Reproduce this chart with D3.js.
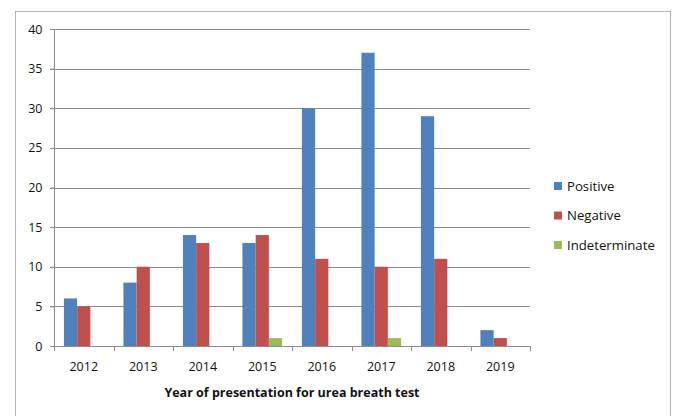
<!DOCTYPE html>
<html><head><meta charset="utf-8">
<script src="https://cdn.jsdelivr.net/npm/d3@7"></script>
<style>body{margin:0;background:#fff;} svg{display:block;font-family:"Open Sans",sans-serif;}</style>
</head><body>
<svg id="c" width="674" height="416"></svg>
<script>
const years = ["2012","2013","2014","2015","2016","2017","2018","2019"];
const seriesNames = ["Positive","Negative","Indeterminate"];
const positive = [6,8,14,13,30,37,29,2];
const negative = [5,10,13,14,11,10,11,1];
const indeterminate = [0,0,0,1,0,1,0,0];
const colors = ["#4F81BD","#C0504D","#9BBB59"];
const yTicks = [0,5,10,15,20,25,30,35,40];

const svg = d3.select("#c");
svg.append("rect").attr("x",15.5).attr("y",11.5).attr("width",655).attr("height",420)
  .attr("fill","none").attr("stroke","#b3b3b3");

const L=54, R=530, T=29, B=346;
const x = d3.scaleBand().domain(years).range([L,R]).paddingInner(0).paddingOuter(0);
const y = d3.scaleLinear().domain([0,40]).range([B,T]);
const bw = x.bandwidth()/4.5;
const x1 = d3.scaleBand().domain(seriesNames).range([bw*0.75, bw*3.75]);

// gridlines
svg.append("g").selectAll("line").data(yTicks.filter(d=>d>0)).join("line")
  .attr("x1",L-4).attr("x2",R).attr("y1",d=>Math.round(y(d))+0.5).attr("y2",d=>Math.round(y(d))+0.5)
  .attr("stroke","#8c8c8c").attr("stroke-width",1);

const data = [positive,negative,indeterminate];
data.forEach((vals,si)=>{
  svg.append("g").selectAll("rect").data(vals.map((v,i)=>({v,i}))).join("rect")
    .attr("x",d=>x(years[d.i])+x1(seriesNames[si]))
    .attr("width",x1.bandwidth())
    .attr("y",d=>y(d.v))
    .attr("height",d=>y(0)-y(d.v))
    .attr("fill",colors[si]);
});

// y axis
const yAxis = svg.append("g").attr("transform",`translate(${L+0.5},0)`)
  .call(d3.axisLeft(y).tickValues(yTicks).tickSize(4).tickPadding(8));
yAxis.select(".domain").attr("stroke","#8c8c8c").attr("d",`M-4,${B+0.5}H0V${T}`);
yAxis.selectAll(".tick line").attr("stroke","#8c8c8c");
yAxis.selectAll("text").attr("font-size","12.5px").attr("fill","#111").attr("font-family","Open Sans");

// x axis
const xAxis = svg.append("g").attr("transform",`translate(0,${B+0.5})`)
  .call(d3.axisBottom(x).tickSize(0).tickPadding(16));
xAxis.select(".domain").attr("stroke","#8c8c8c").attr("d",`M${L},0H${R}`);
xAxis.selectAll("text").attr("font-size","12.5px").attr("fill","#111").attr("font-family","Open Sans");
svg.append("g").selectAll("line").data(d3.range(years.length+1)).join("line")
  .attr("x1",i=>Math.round(L+i*x.bandwidth())+0.5).attr("x2",i=>Math.round(L+i*x.bandwidth())+0.5)
  .attr("y1",B).attr("y2",B+5).attr("stroke","#8c8c8c");

svg.append("text").attr("x",(L+R)/2).attr("y",397).attr("text-anchor","middle")
  .attr("font-size","12.5px").attr("font-weight","bold").attr("fill","#111")
  .text("Year of presentation for urea breath test");

// legend
const lg = svg.append("g").attr("transform","translate(554,186)");
seriesNames.forEach((n,i)=>{
  const g = lg.append("g").attr("transform",`translate(0,${i*29.5})`);
  g.append("rect").attr("x",0).attr("y",-4).attr("width",8).attr("height",8).attr("fill",colors[i]);
  g.append("text").attr("x",13).attr("y",4.5).attr("font-size","13.2px").attr("fill","#111").text(n);
});
</script>
</body></html>
